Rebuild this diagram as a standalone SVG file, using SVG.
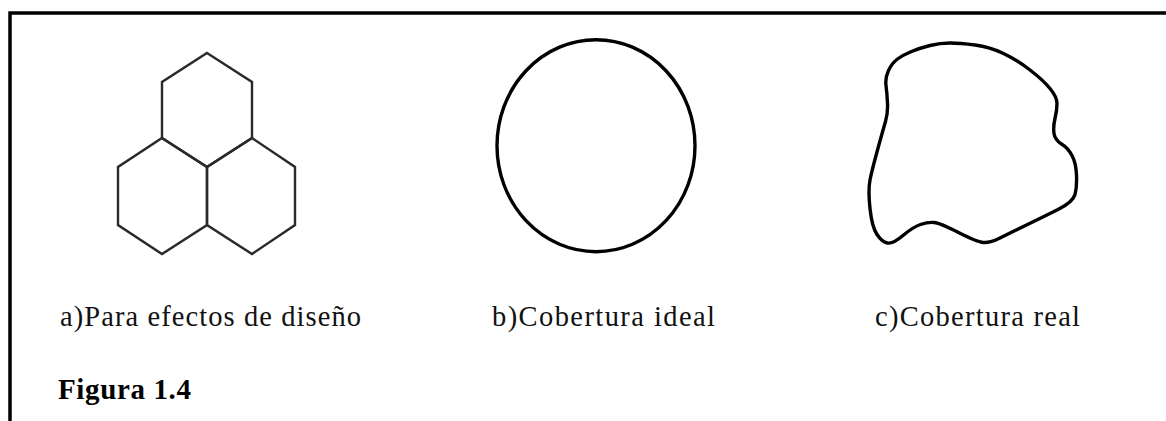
<svg xmlns="http://www.w3.org/2000/svg" width="1166" height="421" viewBox="0 0 1166 421">
<style>
.hex{fill:none;stroke:#2a2a2a;stroke-width:2.4;stroke-linejoin:miter}
.shape{fill:none;stroke:#000;stroke-width:3.4}
.lbl{font-family:"Liberation Serif","Times New Roman",serif;font-size:28.5px;fill:#111}
.fig{font-family:"Liberation Serif","Times New Roman",serif;font-size:29px;font-weight:bold;fill:#000}
</style>
<rect width="1166" height="421" fill="#fff"/>
<path d="M10,421 V13 H1166" fill="none" stroke="#000" stroke-width="3.5"/>
<g id="hexagons">
<polygon class="hex" points="207,53 252,82 252,138 207,167 162,138 162,82"/>
<polygon class="hex" points="162,138 207,167 207,225 162,254 118,225 118,167"/>
<polygon class="hex" points="252,138 295,167 295,225 252,254 207,225 207,167"/>
</g>
<g id="ideal">
<ellipse class="shape" cx="596" cy="145.7" rx="99" ry="106"/>
</g>
<g id="real">
<path class="shape" stroke-width="3.6" d="M950,43 Q960,43 975,45 Q990,47 1003.5,53.5 Q1017,60 1030,70 Q1043,80 1050,88.5 Q1057,97 1057,103.5 Q1057,110 1055,118.5 Q1053,127 1054,133.5 Q1055,140 1061.5,144 Q1068,148 1072,155.5 Q1076,163 1076.5,175 Q1077,187 1075,194.5 Q1073,202 1058,209.5 Q1043,217 1026.5,225 Q1010,233 1000,238 Q990,243 983.5,242.5 Q977,242 958.5,232.5 Q940,223 934,222.5 Q928,222 920.5,224.5 Q913,227 903,235.5 Q893,244 887.5,243 Q882,242 877,234.5 Q872,227 870,208.5 Q868,190 870,180 Q872,170 877.5,150 Q883,130 885.5,121.5 Q888,113 887.5,103 Q887,93 886,85.5 Q885,78 888.5,70.5 Q892,63 897.5,59 Q903,55 911.5,51.5 Q920,48 930,45.5 Q940,43 950,43 Z"/>
</g>
<g id="labels">
<text class="lbl" x="60" y="326" textLength="301" lengthAdjust="spacing">a)Para efectos de diseño</text>
<text class="lbl" x="492" y="326" textLength="223" lengthAdjust="spacing">b)Cobertura ideal</text>
<text class="lbl" x="875" y="326" textLength="205" lengthAdjust="spacing">c)Cobertura real</text>
<text class="fig" x="58" y="399" textLength="133" lengthAdjust="spacing">Figura 1.4</text>
</g>
</svg>
